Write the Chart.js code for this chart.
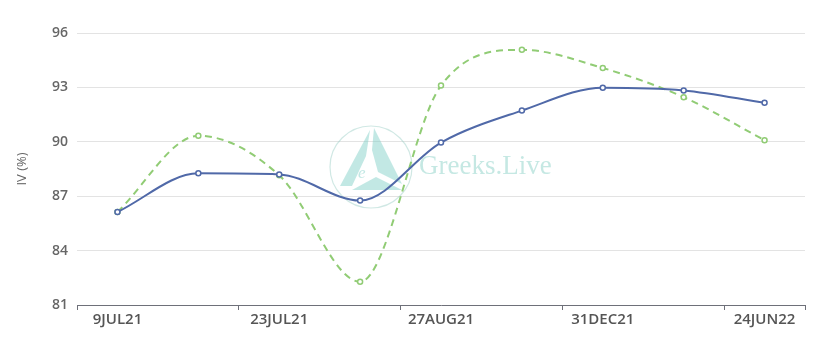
<!DOCTYPE html>
<html>
<head>
<meta charset="utf-8">
<script src="https://cdn.jsdelivr.net/npm/chart.js@4.4.0/dist/chart.umd.min.js"></script>
<style>
  html, body { margin: 0; padding: 0; background: #fff; }
  #wrap { width: 819px; height: 341px; position: relative; }
</style>
</head>
<body>
<div id="wrap"><canvas id="ivChart"></canvas></div>
<script>
// expiries (only every other one is labelled on the axis)
let expiryLabels = ['9JUL21', '16JUL21', '23JUL21', '30JUL21', '27AUG21', '24SEP21', '31DEC21', '25MAR22', '24JUN22'];
let blueSeries = [86.13, 88.26, 88.2, 86.76, 89.96, 91.72, 92.98, 92.83, 92.15];
let greenSeries = [86.13, 90.33, 88.15, 82.28, 93.1, 95.07, 94.07, 92.46, 90.09];
let yTicks = [81, 84, 87, 90, 93, 96];

// faint logo behind the lines
const watermark = {
    id: 'watermark',
    beforeDatasetsDraw(chart) {
        const ctx = chart.ctx;
        ctx.save();
        ctx.strokeStyle = 'rgba(150,205,195,0.45)';
        ctx.lineWidth = 1.2;
        ctx.beginPath();
        ctx.arc(371, 167, 41, 0, Math.PI * 2);
        ctx.stroke();
        ctx.fillStyle = 'rgba(120,205,195,0.45)';
        // left leg
        ctx.beginPath();
        ctx.moveTo(370, 130); ctx.lineTo(340, 186); ctx.lineTo(352, 186); ctx.lineTo(366, 156); ctx.closePath();
        ctx.fill();
        // right leg
        ctx.beginPath();
        ctx.moveTo(374, 128); ctx.lineTo(402, 184); ctx.lineTo(378, 172); ctx.lineTo(372, 150); ctx.closePath();
        ctx.fill();
        // base
        ctx.beginPath();
        ctx.moveTo(352, 190); ctx.lineTo(402, 190); ctx.lineTo(376, 177); ctx.closePath();
        ctx.fill();
        ctx.font = 'italic 17px "Liberation Serif"';
        ctx.fillText('e', 358, 178);
        ctx.font = '27px "Liberation Serif"';
        ctx.fillStyle = 'rgba(140,210,200,0.5)';
        ctx.textBaseline = 'middle';
        ctx.fillText('Greeks.Live', 419, 167);
        ctx.restore();
    }
};

const showEven = (ctx) => (ctx.index === undefined || ctx.index % 2 === 0) ? '#6e7079' : 'rgba(0,0,0,0)';

var ctxL = document.getElementById('ivChart').getContext('2d');
var ivChart = new Chart(ctxL, {
    type: 'line',
    data: {
        labels: expiryLabels,
        datasets: [{
            label: 'IV',
            data: blueSeries,
            borderColor: '#5069a8',
            backgroundColor: '#ffffff',
            borderWidth: 2,
            cubicInterpolationMode: 'monotone',
            pointRadius: 2.5,
            pointBorderWidth: 1.5,
            pointBackgroundColor: '#ffffff',
            pointBorderColor: '#5069a8'
        },
        {
            label: 'IV 2',
            data: greenSeries,
            borderColor: '#91cc75',
            backgroundColor: '#ffffff',
            borderWidth: 2,
            borderDash: [7, 5],
            cubicInterpolationMode: 'monotone',
            pointRadius: 2.5,
            pointBorderWidth: 1.5,
            pointBackgroundColor: '#ffffff',
            pointBorderColor: '#91cc75'
        }]
    },
    options: {
        responsive: true,
        maintainAspectRatio: false,
        animation: false,
        layout: { padding: { top: 33, right: 14, bottom: 11, left: 0 } },
        plugins: {
            legend: { display: false },
            tooltip: { enabled: false }
        },
        scales: {
            x: {
                offset: true,
                border: { display: true, color: '#6e7079', width: 1 },
                grid: {
                    offset: true,
                    drawOnChartArea: false,
                    drawTicks: true,
                    tickLength: 5,
                    color: showEven,
                    tickColor: showEven
                },
                ticks: {
                    autoSkip: false,
                    maxRotation: 0,
                    padding: 1,
                    color: '#555',
                    font: { family: 'Open Sans', size: 15, weight: '600' },
                    callback: function (value, index) {
                        return index % 2 === 0 ? expiryLabels[index] : '';
                    }
                }
            },
            y: {
                min: yTicks[0],
                max: yTicks[yTicks.length - 1],
                afterBuildTicks: (scale) => { scale.ticks = yTicks.map(v => ({ value: v })); },
                afterFit: (scale) => { scale.width = 77; },
                border: { display: false },
                grid: { color: '#e3e3e3', drawTicks: false },
                ticks: {
                    padding: 9,
                    color: '#666',
                    font: { family: 'Open Sans', size: 14, weight: '600' }
                },
                title: {
                    display: true,
                    text: 'IV (%)',
                    color: '#666',
                    padding: { top: 14, bottom: 0 },
                    font: { family: 'Open Sans', size: 13 }
                }
            }
        }
    },
    plugins: [watermark]
});
</script>
</body>
</html>
